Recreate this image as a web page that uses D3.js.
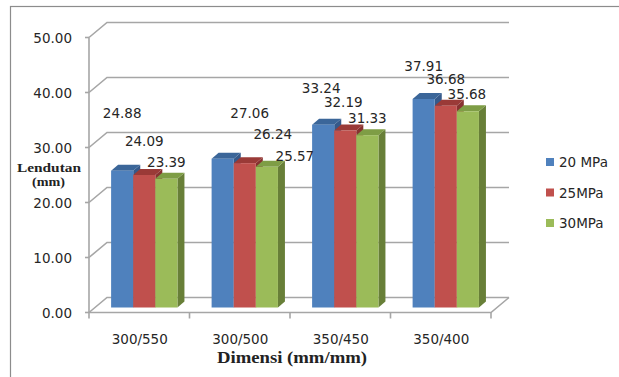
<!DOCTYPE html>
<html><head><meta charset="utf-8">
<script src="https://cdn.jsdelivr.net/npm/d3@7"></script>
<style>html,body{margin:0;padding:0;background:#fff;}svg{display:block;}</style>
</head><body>
<script>
// ---- data ----
const categories = ["300/550", "300/500", "350/450", "350/400"];
const seriesNames = ["20 MPa", "25MPa", "30MPa"];
const v20 = [24.88, 27.06, 33.24, 37.91];
const v25 = [24.09, 26.24, 32.19, 36.68];
const v30 = [23.39, 25.57, 31.33, 35.68];
const yTicks = [0, 10, 20, 30, 40, 50];
const yTickLabels = ["0.00", "10.00", "20.00", "30.00", "40.00", "50.00"];
const seriesValues = [v20, v25, v30];

// ---- layout (label placements as in the original, relative to bar tops) ----
const labelNudge = [ // [category][series] -> [dx, dy]
  [[0, -57], [0, -33], [0, -16]],
  [[27, -45], [28, -28], [28, -10]],
  [[-2, -36], [-2, -27], [0, -16]],
  [[0, -32], [0, -26], [-1, -16]]
];
const colors = {
  front: ["#4F81BD", "#C0504D", "#9BBB59"],
  top:   ["#3B6699", "#9A3A37", "#7E9D45"],
  side:  ["#35598A", "#873230", "#687F38"]
};

const W = 619, H = 377;
const svg = d3.select("body").append("svg").attr("width", W).attr("height", H);

// outer border
svg.append("rect").attr("x", 10.5).attr("y", 6.5).attr("width", 640).attr("height", 400)
  .attr("fill", "none").attr("stroke", "#8c8c8c").attr("stroke-width", 1.2);

const x = d3.scaleBand().domain(categories).range([89, 491]);
const y = d3.scaleLinear().domain([0, 50]).range([312.5, 37.5]);
const DX = 18, DY = -15;           // wall depth
const BX = 6, BY = -5;             // bar front plane offset
const BDX = 7, BDY = -6;           // bar depth
const grid = "#a6a6a6";

// back wall gridlines (side diagonal + back horizontal)
const g = svg.append("g").attr("fill", "none").attr("stroke", grid).attr("stroke-width", 1.6);
yTicks.forEach(t => {
  const yy = y(t);
  g.append("path").attr("d", `M${x.range()[0]},${yy} L${x.range()[0] + DX},${yy + DY} L${x.range()[1] + DX},${yy + DY}`);
});
// floor
g.append("path").attr("d",
  `M${x.range()[0]},${y(0)} L${x.range()[1]},${y(0)} L${x.range()[1] + DX},${y(0) + DY}`);

// value axis line + ticks
const ax = svg.append("g").attr("stroke", grid).attr("stroke-width", 1.6);
ax.append("line").attr("x1", x.range()[0]).attr("x2", x.range()[0]).attr("y1", y(50)).attr("y2", y(0));
yTicks.forEach(t => {
  ax.append("line").attr("x1", x.range()[0] - 4).attr("x2", x.range()[0]).attr("y1", y(t)).attr("y2", y(t));
});
// category ticks
[...categories.map(c => x(c)), x.range()[1]].forEach(xx => {
  ax.append("line").attr("x1", xx).attr("x2", xx).attr("y1", y(0)).attr("y2", y(0) + 6);
});

const tickFont = "DejaVu Sans, sans-serif";
// y tick labels
svg.append("g").selectAll("text").data(yTicks).join("text")
  .attr("x", 72).attr("y", d => y(d) + 1)
  .attr("text-anchor", "end").attr("dominant-baseline", "middle")
  .attr("font-family", tickFont).attr("font-size", 13.5).attr("fill", "#262626")
  .text((d, i) => yTickLabels[i]);

// category labels
svg.append("g").selectAll("text").data(categories).join("text")
  .attr("x", d => x(d) + x.bandwidth() / 2 + 0.5).attr("y", 340)
  .attr("text-anchor", "middle").attr("dominant-baseline", "middle")
  .attr("font-family", tickFont).attr("font-size", 13.5).attr("fill", "#262626")
  .text(d => d);

// axis titles
svg.append("text").attr("x", 217).attr("y", 363)
  .attr("font-family", "Liberation Serif, serif").attr("font-weight", "bold").attr("font-size", 16.5)
  .attr("textLength", 150).attr("lengthAdjust", "spacingAndGlyphs").attr("fill", "#222")
  .text("Dimensi (mm/mm)");
svg.append("text").attr("x", 17).attr("y", 172)
  .attr("font-family", "Liberation Serif, serif").attr("font-weight", "bold").attr("font-size", 13)
  .attr("textLength", 64).attr("lengthAdjust", "spacingAndGlyphs").attr("fill", "#222")
  .text("Lendutan");
svg.append("text").attr("x", 32).attr("y", 186)
  .attr("font-family", "Liberation Serif, serif").attr("font-weight", "bold").attr("font-size", 13)
  .attr("textLength", 33).attr("lengthAdjust", "spacingAndGlyphs").attr("fill", "#222")
  .text("(mm)");

// bars
const bw = x.bandwidth() * 0.22;
const bars = svg.append("g");
categories.forEach((c, ci) => {
  seriesValues.forEach((vals, si) => {
    const v = vals[ci];
    const x0 = x(c) + bw + si * bw;
    const x1 = x0 + bw;
    const yt = y(v) + BY, yb = y(0) + BY;
    // side
    bars.append("path").attr("fill", colors.side[si])
      .attr("d", `M${x1},${yt} L${x1 + BDX},${yt + BDY} L${x1 + BDX},${yb + BDY} L${x1},${yb} Z`);
    // top
    bars.append("path").attr("fill", colors.top[si])
      .attr("d", `M${x0},${yt} L${x0 + BDX},${yt + BDY} L${x1 + BDX},${yt + BDY} L${x1},${yt} Z`);
    // front
    bars.append("rect").attr("x", x0).attr("y", yt).attr("width", bw).attr("height", yb - yt)
      .attr("fill", colors.front[si]);
  });
});

// data labels
const lab = svg.append("g");
categories.forEach((c, ci) => {
  seriesValues.forEach((vals, si) => {
    const v = vals[ci];
    const cx = x(c) + bw + si * bw + bw / 2;
    const [ndx, ndy] = labelNudge[ci][si];
    lab.append("text").attr("x", cx + ndx).attr("y", y(v) + BY + ndy)
      .attr("text-anchor", "middle").attr("dominant-baseline", "middle")
      .attr("font-family", tickFont).attr("font-size", 13.5).attr("fill", "#262626")
      .text(v.toFixed(2));
  });
});

// legend
const leg = svg.append("g");
seriesNames.forEach((s, i) => {
  const ly = 162 + i * 30.5;
  leg.append("rect").attr("x", 546).attr("y", ly - 4).attr("width", 8).attr("height", 8).attr("fill", colors.front[i]);
  leg.append("text").attr("x", 559).attr("y", ly + 1).attr("dominant-baseline", "middle")
    .attr("font-family", tickFont).attr("font-size", 13.5).attr("fill", "#262626").text(s);
});
</script>
</body></html>
